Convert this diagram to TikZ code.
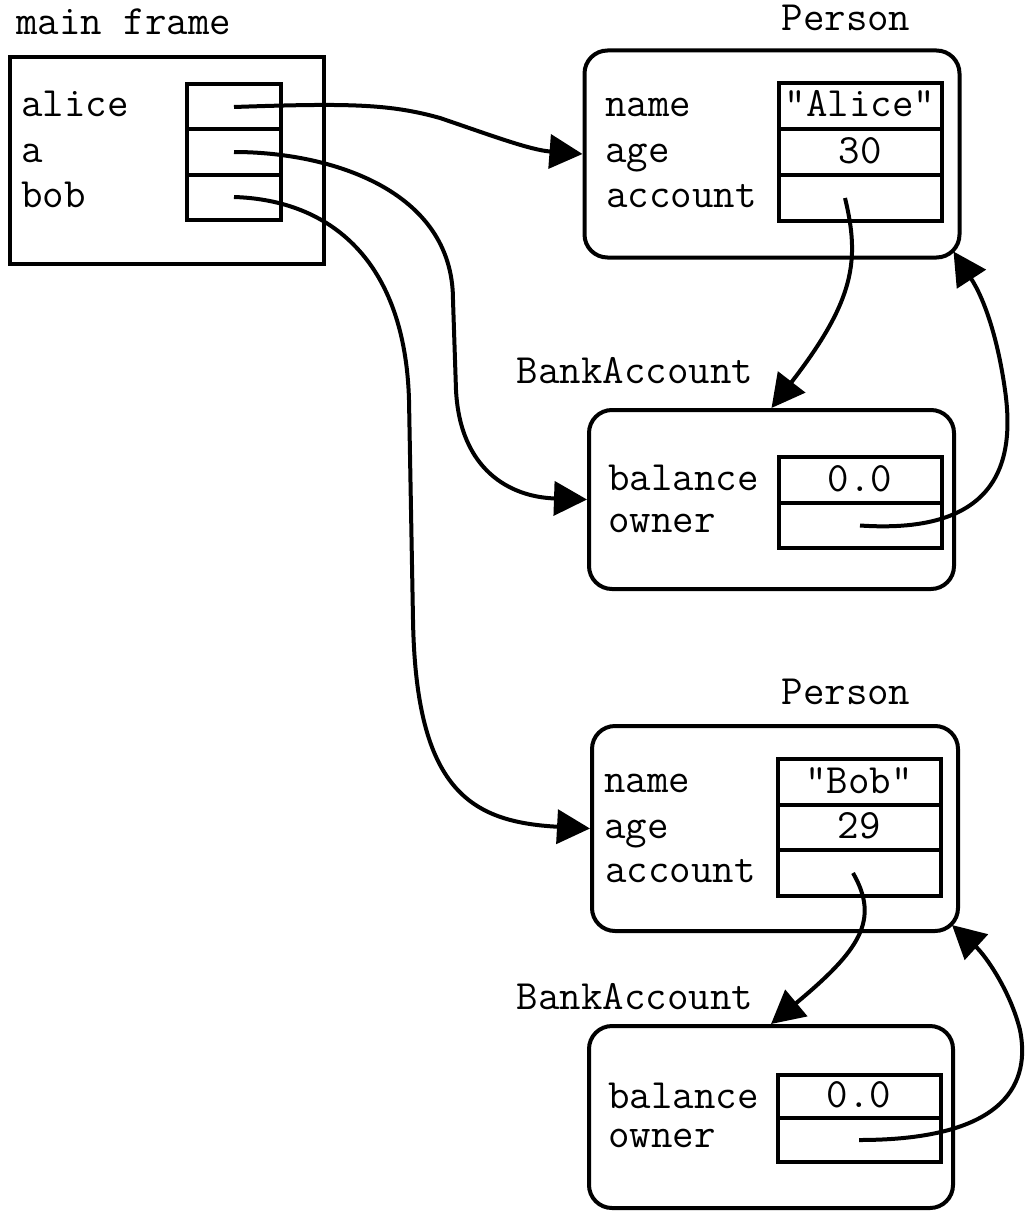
\documentclass[tikz,border=0pt]{standalone}
\usepackage{fontspec}
\usetikzlibrary{arrows.meta}

\begin{document}
\begin{tikzpicture}[x=1pt, y=-1pt,
            every node/.style={font=\ttfamily\fontsize{41.7}{45}\selectfont, inner sep=0pt},
            frmbox/.style={draw, line width=4pt, minimum width=314pt, minimum height=207pt},
            objbox/.style={draw, line width=4pt, rounded corners=23pt},
            slotbox/.style={draw, line width=4pt, minimum width=163pt, minimum height=46pt,
                text height=22pt, text depth=0pt},
            fieldlbl/.style={anchor=base west},
            typelbl/.style={anchor=base},
            refline/.style={line width=4pt, -{Triangle[length=33pt,width=34pt]}}]
            \useasboundingbox (0,0) rectangle (1029,1220);

            % main frame
            \node[fieldlbl] (mainlbl) at (16,35) {main frame};
            \node[frmbox] (main) at (167,160.5) {};
            \node[slotbox, minimum width=94pt, minimum height=45pt] (alice) at (234,107) {};
            \node[slotbox, minimum width=94pt, minimum height=45pt] (a) at (234,152) {};
            \node[slotbox, minimum width=94pt, minimum height=45pt] (bob) at (234,197) {};
            \node[fieldlbl] (aliceL) at (21,117) {alice};
            \node[fieldlbl] (aL) at (21,162) {a};
            \node[fieldlbl] (bobL) at (21,207) {bob};

            % first person
            \node[typelbl] (p1type) at (846,31) {Person};
            \node[objbox, minimum width=375pt, minimum height=207pt] (p1) at (772,154) {};
            \node[slotbox] (p1name) at (860,106) {"Alice"};
            \node[slotbox] (p1age) at (860,152) {30};
            \node[slotbox] (p1acc) at (860,198) {};
            \node[fieldlbl] (p1nameL) at (605,117) {name};
            \node[fieldlbl] (p1ageL) at (605,162) {age};
            \node[fieldlbl] (p1accL) at (606,207) {account};

            % first account
            \node[typelbl] (b1type) at (635,383) {BankAccount};
            \node[objbox, minimum width=365pt, minimum height=179pt] (b1) at (771.5,499.5) {};
            \node[slotbox] (b1bal) at (860,480) {0.0};
            \node[slotbox, minimum height=45pt] (b1own) at (860,525.5) {};
            \node[fieldlbl] (b1balL) at (608,490) {balance};
            \node[fieldlbl] (b1ownL) at (608,532) {owner};

            % second person
            \node[typelbl] (p2type) at (846,704) {Person};
            \node[objbox, minimum width=366pt, minimum height=205pt] (p2) at (775,828.5) {};
            \node[slotbox] (p2name) at (859,782) {"Bob"};
            \node[slotbox, minimum height=45pt] (p2age) at (859,827.5) {29};
            \node[slotbox] (p2acc) at (859,873) {};
            \node[fieldlbl] (p2nameL) at (604,792) {name};
            \node[fieldlbl] (p2ageL) at (604,838) {age};
            \node[fieldlbl] (p2accL) at (605,882) {account};

            % second account
            \node[typelbl] (b2type) at (635,1009) {BankAccount};
            \node[objbox, minimum width=364pt, minimum height=182pt] (b2) at (771,1117) {};
            \node[slotbox, minimum height=43pt] (b2bal) at (859,1096.5) {0.0};
            \node[slotbox, minimum height=44pt] (b2own) at (859,1140) {};
            \node[fieldlbl] (b2balL) at (608,1108) {balance};
            \node[fieldlbl] (b2ownL) at (608,1147) {owner};

            % references
            \draw[refline] (alice.center) .. controls (350,103) and (390,104) .. (440,118)
                .. controls (490,135) and (530,150) .. (p1.west);
            \draw[refline] (a.center) .. controls (330,152) and (453,190) .. (453,300) -- (456,390)
                .. controls (460,470) and (510,497) .. (b1.west);
            \draw[refline] (bob.center) .. controls (330,200) and (405,260) .. (409,400) -- (413,620)
                .. controls (416,790) and (470,822) .. (p2.west);
            \draw[refline] ([xshift=-15pt]p1acc.center) .. controls (860,260) and (855,300) .. (b1.north);
            \draw[refline] (b1own.center) .. controls (1000,535) and (1015,460) .. (1005,390)
                .. controls (998,340) and (985,300) .. ([shift={(-8pt,8pt)}]p1.south east);
            \draw[refline] ([xshift=-6pt]p2acc.center) .. controls (880,920) and (860,950) .. (b2.north);
            \draw[refline] (b2own.center) .. controls (1010,1140) and (1030,1080) .. (1020,1030)
                .. controls (1010,990) and (985,955) .. ([shift={(-8pt,8pt)}]p2.south east);

        \end{tikzpicture}
\end{document}
